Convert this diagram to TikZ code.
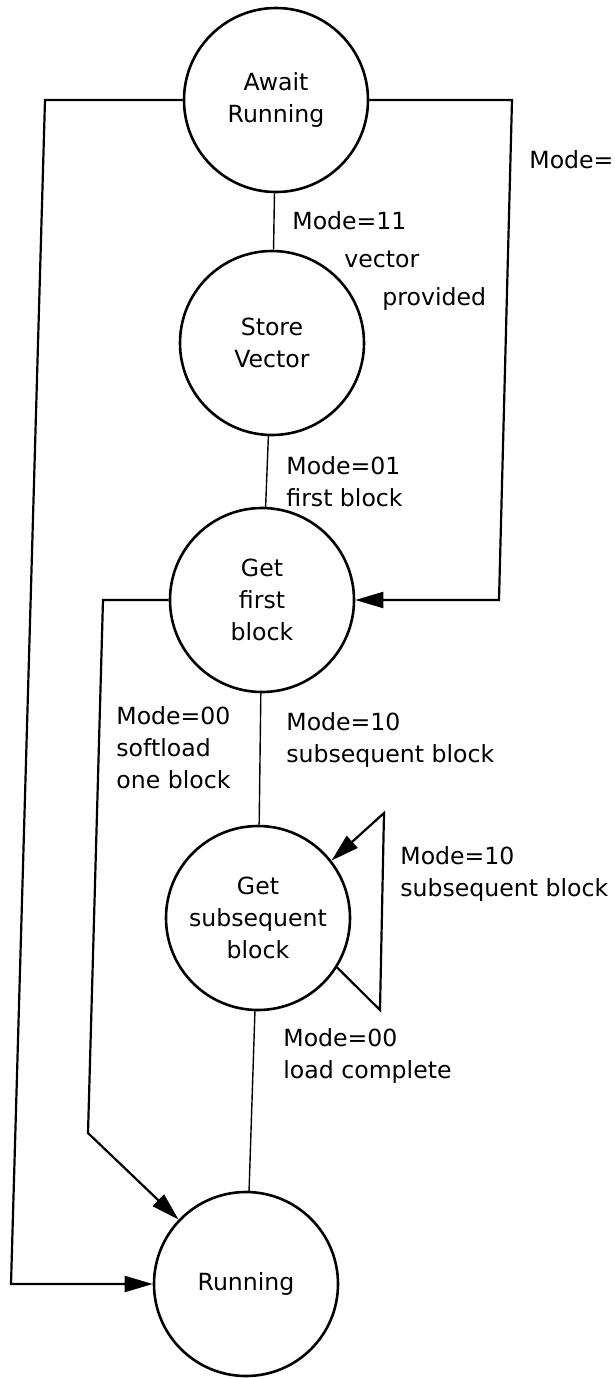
\documentclass[tikz,border=0pt]{standalone}
\usepackage{fontspec}
\setmainfont{DejaVu Sans}
\usetikzlibrary{arrows.meta,positioning,calc}
\tikzset{
    state/.style={
        draw,
        circle,
        line width=1.3pt,
        align=center,
        minimum size=92pt,
        inner sep=0pt,
        font=\fontsize{11.8}{16}\selectfont
    },
    link/.style={
        line width=0.7pt
    },
    arrow/.style={
        -{Triangle[length=14pt,width=8pt]},
        line width=1.1pt
    },
    lbl/.style={align=left, anchor=west, inner sep=0pt, font=\fontsize{11.8}{16}\selectfont}
}

\begin{document}
\begin{tikzpicture}[x=0.5pt, y=-0.5pt]
\useasboundingbox (0,0) rectangle (615,1378);

% states
\node[state] (await) at (276,100) {Await\\Running};
\node[state] (store) at (272,343) {Store\\Vector};
\node[state] (first) at (262,600) {Get\\first\\block};
\node[state] (subseq) at (258,918) {Get\\subsequent\\block};
\node[state] (run) at (246,1284) {Running};

% corners of the side paths
\coordinate (lt) at (45,97);
\coordinate (lb) at (11,1279);
\coordinate (rt) at (512,106);
\coordinate (rb) at (499,603);
\coordinate (st) at (103,594);
\coordinate (sb) at (88,1133);
\coordinate (sa) at (380,1010);
\coordinate (sc) at (384,813);

\draw[link] (await) -- (store);
\draw[link] (store) -- (first);
\draw[link] (first) -- (subseq);
\draw[link] (subseq) -- (run);

\draw[arrow] (await.west) -- (await.west -| lt) -- (run.west -| lb) -- (run.west);
\draw[arrow] (await.east) -- (await.east -| rt) -- (first.east -| rb) -- (first.east);
\draw[arrow] (first.west) -- (first.west -| st) -- (sb) -- (run);
\draw[arrow] (subseq.-32) -- (sa) -- (sc) -- (subseq.38);

% transition labels
\node[lbl] (vec) at (292,261) {Mode=11\\[3pt]\hspace*{26pt}vector\\[3pt]\hspace*{45pt}provided};
\node[lbl] (fb) at (286,482) {Mode=01\\first block};
\node[lbl] (soft) at (116,748) {Mode=00\\softload\\one block};
\node[lbl] (sub) at (286,740) {Mode=10\\subsequent block};
\node[lbl] (self) at (400,874) {Mode=10\\subsequent block};
\node[lbl] (done) at (283,1056) {Mode=00\\load complete};
\node[lbl] (cut) at (529,160) {Mode=};

\end{tikzpicture}
\end{document}
